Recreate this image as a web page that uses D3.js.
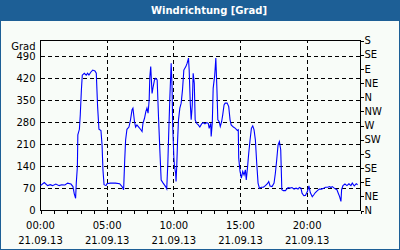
<!DOCTYPE html>
<html lang="de">
<head>
    <meta charset="UTF-8">
    <title>Windrichtung [Grad]</title>
    <style>
        body { margin: 0; background: #ffffff; }
        svg { display: block; }
        text { font-family: "DejaVu Sans", sans-serif; font-size: 10px; fill: #000; }
    </style>
</head>
<body>
    <div id="chart"></div>

    <script src="https://cdn.jsdelivr.net/npm/d3@7/dist/d3.min.js"></script>
    <script>
        // readings of 21.09.13, time of day and direction in degrees (0..540, wraps past N)
        const times = [
            "00:00","00:17","00:32","00:44","00:54","01:09","01:24","01:35","01:50","02:02",
            "02:17","02:26","02:32","02:38","02:41","02:46","02:48","02:55","02:59","03:04",
            "03:08","03:17","03:26","03:32","03:38","03:47","03:55","04:05","04:11","04:17",
            "04:23","04:32","04:37","04:41","04:46","04:55","04:59","05:14","05:37","05:56",
            "06:07","06:14","06:19","06:23","06:29","06:38","06:45","06:52","06:56","07:03",
            "07:08","07:14","07:22","07:30","07:37","07:41","07:48","07:54","07:59","08:04",
            "08:09","08:12","08:16","08:22","08:27","08:33","08:39","08:45","08:51","08:57",
            "09:03","09:12","09:23","09:28","09:33","09:37","09:42","09:48","09:52","09:55",
            "10:00","10:03","10:08","10:10","10:13","10:17","10:21","10:27","10:33","10:39",
            "10:45","10:54","11:00","11:06","11:09","11:14","11:18","11:23","11:27","11:32",
            "11:36","11:42","11:50","11:57","12:05","12:12","12:20","12:28","12:35","12:39",
            "12:46","12:48","12:53","12:57","13:04","13:09","13:14","13:18","13:24","13:29",
            "13:35","13:40","13:46","13:51","14:00","14:07","14:13","14:18","14:28","14:37",
            "14:46","14:50","14:52","14:58","15:04","15:10","15:16","15:22","15:26","15:32",
            "15:37","15:43","15:49","15:55","16:01","16:07","16:13","16:19","16:25","16:34",
            "16:43","16:52","17:01","17:07","17:13","17:22","17:31","17:37","17:43","17:49",
            "17:55","18:01","18:06","18:13","18:22","18:28","18:34","18:43","18:52","19:01",
            "19:10","19:19","19:25","19:32","19:37","19:45","19:52","20:01","20:08","20:14",
            "20:23","20:30","20:37","20:46","20:55","21:04","21:14","21:23","21:32","21:41",
            "21:47","21:53","22:02","22:08","22:14","22:20","22:26","22:32","22:35","22:41",
            "22:50","22:59","23:08","23:17","23:23","23:32","23:41","23:47"
        ];
        const degrees = [
            79, 89, 79, 82, 79, 84, 79, 82, 81, 87,
            84, 76, 53, 39, 87, 140, 240, 258, 304, 383,
            430, 436, 430, 436, 430, 440, 446, 443, 436, 330,
            258, 254, 208, 129, 82, 79, 85, 87, 87, 85,
            76, 66, 161, 224, 258, 265, 288, 320, 325, 282,
            265, 272, 265, 258, 251, 277, 293, 314, 325, 309,
            351, 425, 457, 372, 393, 415, 420, 415, 298, 193,
            97, 87, 76, 69, 150, 246, 357, 468, 393, 267,
            171, 140, 119, 92, 140, 224, 288, 325, 341, 383,
            446, 457, 468, 484, 446, 341, 288, 335, 436, 404,
            288, 277, 272, 265, 275, 279, 275, 279, 277, 261,
            277, 235, 277, 388, 430, 484, 383, 288, 282, 267,
            282, 304, 335, 341, 341, 330, 288, 272, 265, 261,
            254, 256, 166, 124, 103, 124, 113, 129, 97, 140,
            182, 224, 261, 269, 256, 224, 150, 87, 71, 74,
            74, 79, 85, 92, 78, 76, 87, 119, 161, 208,
            219, 193, 66, 63, 63, 68, 73, 71, 73, 68,
            71, 68, 73, 71, 55, 47, 48, 60, 78, 57,
            44, 50, 57, 63, 68, 68, 71, 74, 74, 76,
            73, 76, 71, 68, 66, 55, 44, 29, 66, 79,
            84, 79, 85, 79, 87, 78, 85, 82
        ];

        const gradTicks = [0, 70, 140, 210, 280, 350, 420, 490];
        const compassTicks = [0, 45, 90, 135, 180, 225, 270, 315, 360, 405, 450, 495, 540];
        const compassLabels = ["N", "NE", "E", "SE", "S", "SW", "W", "NW", "N", "NE", "E", "SE", "S"];
        const hourLabels = ["00:00", "05:00", "10:00", "15:00", "20:00"];
        const dateLabel = "21.09.13";
        const title = "Windrichtung [Grad]";
        const unit = "Grad";

        const W = 400, H = 250;
        const parseTime = d3.timeParse("%d.%m.%y %H:%M");
        const day0 = parseTime(dateLabel + " 00:00");
        const day1 = d3.timeDay.offset(day0, 1);

        const data = times.map((t, i) => ({ t: parseTime(dateLabel + " " + t), v: degrees[i] }));

        const svg = d3.select("#chart")
            .append("svg")
            .attr("width", W)
            .attr("height", H);

        // background + frame + title bar
        svg.append("rect")
            .attr("x", 0.5).attr("y", 0.5)
            .attr("width", W - 1).attr("height", H - 1)
            .attr("fill", "#f8fcf8")
            .attr("stroke", "#1d5f96");

        svg.append("rect")
            .attr("x", 0).attr("y", 0)
            .attr("width", W).attr("height", 21)
            .attr("fill", "#1d5f96");

        svg.append("text")
            .attr("x", 209)
            .attr("y", 14)
            .attr("text-anchor", "middle")
            .style("font-weight", "bold")
            .style("font-size", "10px")
            .style("fill", "#fff")
            .text(title);

        const x = d3.scaleTime()
            .domain([day0, day1])
            .range([40.5, 360.5]);

        const y = d3.scaleLinear()
            .domain([0, 540])
            .range([210.5, 40.5]);

        const grid = svg.append("g")
            .attr("stroke", "#000")
            .attr("stroke-dasharray", "4,3")
            .attr("shape-rendering", "crispEdges");

        // horizontal grid
        grid.selectAll("line.h")
            .data(gradTicks.filter((d) => d > 0))
            .join("line")
                .classed("h", true)
                .attr("x1", x.range()[0]).attr("x2", x.range()[1])
                .attr("y1", (d) => y(d)).attr("y2", (d) => y(d));

        // vertical grid every 5 hours
        const hourTicks = d3.timeHour.every(5).range(day0, day1).filter((d) => d > day0);
        grid.selectAll("line.v")
            .data(hourTicks)
            .join("line")
                .classed("v", true)
                .attr("x1", (d) => x(d)).attr("x2", (d) => x(d))
                .attr("y1", y.range()[0]).attr("y2", y.range()[1]);

        // bottom axis: hourly ticks
        const xAxis = d3.axisBottom(x)
            .ticks(d3.timeHour.every(1))
            .tickSize(3)
            .tickFormat("");
        const gx = svg.append("g")
            .attr("transform", `translate(0, ${y(0)})`)
            .attr("shape-rendering", "crispEdges")
            .call(xAxis);
        gx.select(".domain").remove();
        gx.selectAll("line").attr("stroke", "#000");

        // time and date labels
        const labelTimes = d3.timeHour.every(5).range(day0, day1);
        svg.append("g")
            .selectAll("text")
            .data(labelTimes)
            .join("text")
                .attr("x", (d) => x(d))
                .attr("y", 229)
                .attr("text-anchor", "middle")
                .text((d, i) => hourLabels[i]);
        svg.append("g")
            .selectAll("text")
            .data(labelTimes)
            .join("text")
                .attr("x", (d) => x(d))
                .attr("y", 244)
                .attr("text-anchor", "middle")
                .text(dateLabel);

        // left axis labels (no ticks)
        const yAxis = d3.axisLeft(y)
            .tickValues(gradTicks)
            .tickSize(0)
            .tickPadding(5);
        const gy = svg.append("g")
            .attr("transform", `translate(${x.range()[0]}, 0)`)
            .call(yAxis);
        gy.select(".domain").remove();
        gy.selectAll("text").attr("font-family", null).attr("font-size", null);

        svg.append("text")
            .attr("x", 35.5)
            .attr("y", 49.5)
            .attr("text-anchor", "end")
            .text(unit);

        // right compass axis
        const yAxisR = d3.axisRight(y)
            .tickValues(compassTicks)
            .tickSize(3)
            .tickPadding(1)
            .tickFormat((d, i) => compassLabels[i]);
        const gr = svg.append("g")
            .attr("transform", `translate(${x.range()[1]}, 0)`)
            .attr("shape-rendering", "crispEdges")
            .call(yAxisR);
        gr.select(".domain").remove();
        gr.selectAll("line").attr("stroke", "#000");
        gr.selectAll("text").attr("font-family", null).attr("font-size", null);

        // plot frame
        svg.append("rect")
            .attr("x", x.range()[0]).attr("y", y.range()[1])
            .attr("width", x.range()[1] - x.range()[0])
            .attr("height", y.range()[0] - y.range()[1])
            .attr("fill", "none")
            .attr("stroke", "#000")
            .attr("shape-rendering", "crispEdges");

        // data line
        const line = d3.line()
            .x((d) => x(d.t))
            .y((d) => y(d.v));

        svg.append("path")
            .datum(data)
            .attr("d", line)
            .attr("fill", "none")
            .attr("stroke", "#0000ff")
            .attr("stroke-width", 1.1);
    </script>
</body>
</html>
